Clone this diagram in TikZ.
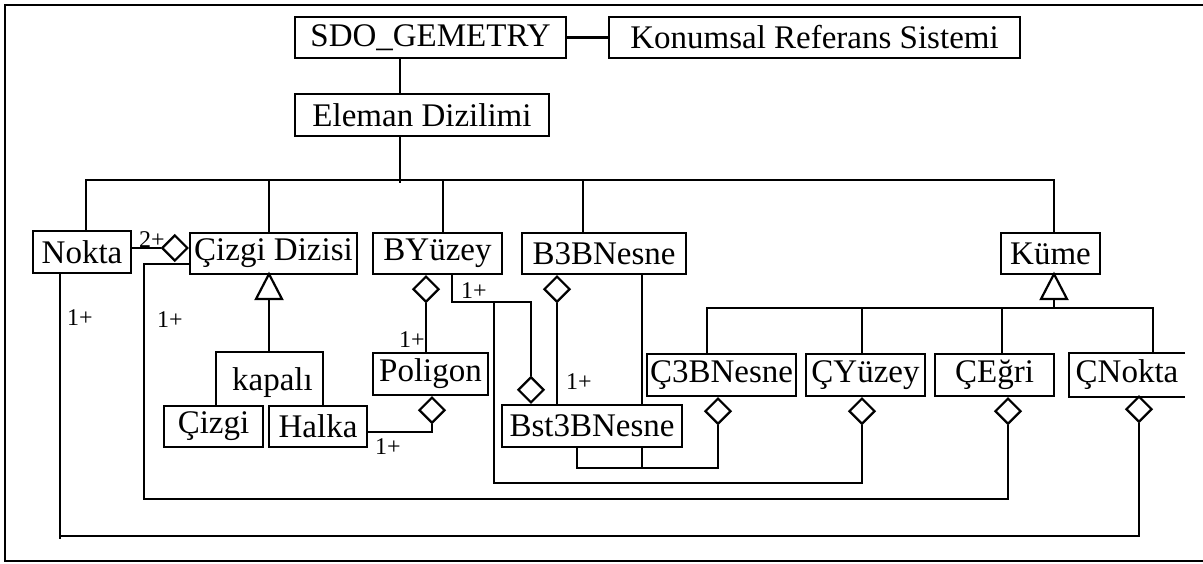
\documentclass[tikz,border=0pt]{standalone}
\usepackage{fontspec}
\setmainfont{Liberation Serif}
\usetikzlibrary{shapes.geometric,calc}
\begin{document}
\begin{tikzpicture}[x=1pt,y=-1pt, line width=2.2pt,
  box/.style={draw, rectangle, inner sep=0pt, font=\fontsize{33}{38}\selectfont},
  openbox/.style={rectangle, inner sep=0pt, font=\fontsize{33}{38}\selectfont},
  dia/.style={draw, diamond, fill=white, inner sep=0pt, minimum width=26pt, minimum height=26pt},
  lbl/.style={inner sep=0pt, font=\fontsize{24}{28}\selectfont}]
\useasboundingbox (0,0) rectangle (1203,563);
% outer frame
\draw (1203,5) -- (5,5) -- (5,561) -- (1203,561);

% boxes
\node[box, minimum width=271pt, minimum height=41pt] (sdo) at (430.5,37.5) {SDO\_GEMETRY};
\node[box, minimum width=411pt, minimum height=41pt] (krs) at (814.5,37.5) {Konumsal Referans Sistemi};
\node[box, minimum width=254pt, minimum height=42pt] (eleman) at (422,115) {Eleman Dizilimi};
\node[box, minimum width=98pt, minimum height=42pt] (nokta) at (82,252) {Nokta};
\node[box, minimum width=167pt, minimum height=41pt] (cdizi) at (273.5,253.5) {Çizgi Dizisi};
\node[box, minimum width=129pt, minimum height=41pt] (byuzey) at (437.5,253.5) {BYüzey};
\node[box, minimum width=164pt, minimum height=41pt] (b3b) at (604,253.5) {B3BNesne};
\node[box, minimum width=99pt, minimum height=41pt] (kume) at (1050.5,253.5) {Küme};
\node[openbox, minimum width=105pt, minimum height=52pt, text depth=0pt] (kapali) at (269.5,379) {\hspace*{6pt}kapalı};
\draw (kapali.south west) -- (kapali.north west) -- (kapali.north east) -- (kapali.south east);
\node[box, minimum width=99pt, minimum height=41pt] (cizgi) at (213.5,426.5) {Çizgi};
\node[box, minimum width=98pt, minimum height=41pt] (halka) at (318,426.5) {Halka};
\node[box, minimum width=115pt, minimum height=42pt] (poligon) at (430.5,374) {Poligon};
\node[box, minimum width=180pt, minimum height=42pt] (bst) at (592,426) {Bst3BNesne};
\node[box, minimum width=149pt, minimum height=42pt] (c3b) at (721.5,375) {Ç3BNesne};
\node[box, minimum width=119pt, minimum height=42pt] (cyuzey) at (865.5,375) {ÇYüzey};
\node[box, minimum width=119pt, minimum height=42pt] (cegri) at (994.5,375) {ÇEğri};
\node[openbox, minimum width=114pt, minimum height=42pt] (cnokta) at (1127,375) {ÇNokta};
\draw (cnokta.north east) -- (cnokta.north west) -- (cnokta.south west) -- (cnokta.south east);

% top connectors
\draw (sdo.east) -- (krs.west);
\coordinate (trunk) at (400,183);
\draw (trunk |- sdo.south) -- (trunk |- eleman.north);
\draw (trunk |- eleman.south) -- (trunk);
\coordinate (b1) at (86,180);
\coordinate (b2) at (269,180);
\coordinate (b3) at (443,180);
\coordinate (b4) at (583,180);
\coordinate (b5) at (1054,180);
\draw (b1 |- nokta.north) -- (b1) -- (b5) -- (b5 |- kume.north);
\draw (b2) -- (b2 |- cdizi.north);
\draw (b3) -- (b3 |- byuzey.north);
\draw (b4) -- (b4 |- b3b.north);

% generalization triangles
\coordinate (t1) at (269,274);
\draw[fill=white] (t1) -- ++(-13,25) -- ++(26,0) -- cycle;
\draw ($(t1)+(0,25)$) -- (t1 |- kapali.north);
\coordinate (t2) at (1054,274);
\draw[fill=white] (t2) -- ++(-13,25) -- ++(26,0) -- cycle;
\coordinate (e1) at (707,308);
\coordinate (e2) at (862,308);
\coordinate (e3) at (1002,308);
\coordinate (e4) at (1153,308);
\draw ($(t2)+(0,25)$) -- (t2 |- e1);
\draw (e1 |- c3b.north) -- (e1) -- (e4) -- (e4 |- cnokta.north);
\draw (e2) -- (e2 |- cyuzey.north);
\draw (e3) -- (e3 |- cegri.north);

% diamonds
\node[dia, anchor=east] (d1) at ([yshift=5.5pt]cdizi.west) {};
\node[dia, anchor=north] (dby) at ([xshift=-11.5pt]byuzey.south) {};
\node[dia, anchor=north] (dpol) at ([xshift=1.5pt]poligon.south) {};
\node[dia, anchor=north] (db3) at ([xshift=-47pt]b3b.south) {};
\node[dia, anchor=south] (dbst) at ([xshift=-61pt]bst.north) {};
\node[dia, anchor=north] (dc3) at ([xshift=-3.5pt]c3b.south) {};
\node[dia, anchor=north] (dcy) at ([xshift=-3.5pt]cyuzey.south) {};
\node[dia, anchor=north] (dce) at ([xshift=13.5pt]cegri.south) {};
\node[dia, anchor=north] (dcn) at ([xshift=12pt,yshift=2pt]cnokta.south) {};

% aggregation connectors
\draw (d1.west) -- (d1.west -| nokta.east);
\node[lbl] (l2) at (152,240) {2+};
\draw (dby.south) -- (dby.south |- poligon.north);
\node[lbl] (l3) at (412,340) {1+};
\draw ([yshift=-5.5pt]halka.east) -| (dpol.south);
\node[lbl] (l4) at (388,447) {1+};
\coordinate (j1) at (494,302);
\coordinate (j2) at (494,483);
\draw ([xshift=14.5pt]byuzey.south) |- (j1) -| (dbst.north);
\node[lbl] (l5) at (474,291) {1+};
\draw (j1) -- (j2) -| (dcy.south);
\draw (db3.south) -- (db3.south |- bst.north);
\node[lbl] (l6) at (579,382) {1+};
\draw ([xshift=38pt]b3b.south) -- ([xshift=38pt]b3b.south |- bst.north);
\coordinate (j3) at (577,468);
\draw ([xshift=-15pt]bst.south) -- (j3) -| (dc3.south);
\draw ([xshift=50pt]bst.south) -- ([xshift=50pt]bst.south |- j3);
\coordinate (c1) at (144,499);
\draw ([yshift=-10.5pt]cdizi.west) -| (c1) -| (dce.south);
\node[lbl] (l7) at (170,320) {1+};
\coordinate (c0) at (60,536);
\draw (c0 |- nokta.south) -- ([yshift=-3pt]c0);
\draw (c0) -| (dcn.south);
\node[lbl] (l8) at (80,318) {1+};
\end{tikzpicture}
\end{document}
